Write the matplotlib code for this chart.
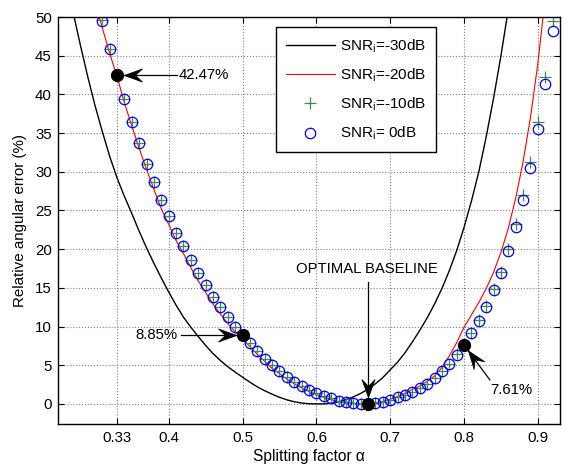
import matplotlib
matplotlib.use("Agg")
import matplotlib.pyplot as plt
from matplotlib.path import Path
from matplotlib.markers import MarkerStyle
from matplotlib.transforms import Affine2D
import numpy as np

plt.rcParams['font.family'] = ['Liberation Sans', 'DejaVu Sans']
plt.rcParams['mathtext.fontset'] = 'custom'
plt.rcParams['mathtext.rm'] = 'Liberation Sans'
plt.rcParams['mathtext.it'] = 'Liberation Sans'

# ---- data ----
x_m30 = [0.27, 0.28, 0.29, 0.30, 0.31, 0.32, 0.33, 0.34, 0.35, 0.36, 0.37, 0.38, 0.39, 0.40,
         0.41, 0.42, 0.43, 0.44, 0.45, 0.46, 0.47, 0.48, 0.49, 0.50, 0.51, 0.52, 0.53, 0.54,
         0.55, 0.56, 0.57, 0.58, 0.59, 0.60, 0.61, 0.62, 0.63, 0.64, 0.65, 0.66, 0.67, 0.68,
         0.69, 0.70, 0.71, 0.72, 0.73, 0.74, 0.75, 0.76, 0.77, 0.78, 0.79, 0.80, 0.81, 0.82,
         0.83, 0.84, 0.85, 0.86]
y_m30 = [50.8, 46.5, 42.4, 38.6, 35.2, 32.0, 29.2, 26.8, 24.6, 22.3, 20.15, 18.15, 16.25, 14.45,
         12.75, 11.2, 9.9, 8.7, 7.55, 6.5, 5.6, 4.8, 4.1, 3.45, 2.8, 2.2, 1.7, 1.25,
         0.85, 0.52, 0.28, 0.11, 0.02, 0.0, 0.0, 0.08, 0.25, 0.55, 0.9, 1.35, 1.9, 2.6,
         3.4, 4.4, 5.4, 6.6, 8.0, 9.5, 11.1, 12.9, 14.9, 17.2, 19.8, 22.8, 26.2, 30.0,
         34.5, 39.5, 45.0, 51.0]

x_m20 = [0.30, 0.31, 0.32, 0.33, 0.34, 0.35, 0.36, 0.37, 0.38, 0.39, 0.40, 0.41, 0.42, 0.43,
         0.44, 0.45, 0.46, 0.47, 0.48, 0.49, 0.50, 0.51, 0.52, 0.53, 0.54, 0.55, 0.56, 0.57,
         0.58, 0.59, 0.60, 0.61, 0.62, 0.63, 0.64, 0.65, 0.66, 0.67, 0.68, 0.69, 0.70, 0.71,
         0.72, 0.73, 0.74, 0.75, 0.76, 0.77, 0.78, 0.79, 0.80, 0.81, 0.82, 0.83, 0.84, 0.85,
         0.86, 0.87, 0.88, 0.89, 0.90, 0.91]
y_m20 = [52.0, 48.6, 45.3, 42.3, 38.9, 35.9, 33.0, 30.3, 27.7, 25.2, 23.2, 21.1, 19.4, 17.6,
         15.9, 14.4, 12.9, 11.6, 10.4, 9.3, 8.4, 7.4, 6.4, 5.5, 4.6, 3.9, 3.2, 2.6,
         2.05, 1.6, 1.2, 0.85, 0.55, 0.3, 0.12, 0.03, 0.0, 0.02, 0.12, 0.3, 0.6, 0.95,
         1.35, 1.85, 2.3, 2.9, 3.6, 4.7, 6.2, 7.9, 9.9, 11.5, 13.1, 14.9, 17.0, 19.6,
         22.7, 26.6, 31.3, 37.0, 44.0, 52.5]

x_pts = [0.31, 0.32, 0.33, 0.34, 0.35, 0.36, 0.37, 0.38, 0.39, 0.40, 0.41, 0.42, 0.43, 0.44,
         0.45, 0.46, 0.47, 0.48, 0.49, 0.50, 0.51, 0.52, 0.53, 0.54, 0.55, 0.56, 0.57, 0.58,
         0.59, 0.60, 0.61, 0.62, 0.63, 0.64, 0.65, 0.66, 0.67, 0.68, 0.69, 0.70, 0.71, 0.72,
         0.73, 0.74, 0.75, 0.76, 0.77, 0.78, 0.79, 0.80, 0.81, 0.82, 0.83, 0.84, 0.85, 0.86,
         0.87, 0.88, 0.89, 0.90, 0.91, 0.92]
y_m10 = [49.6, 45.9, 42.5, 39.4, 36.4, 33.7, 31.0, 28.7, 26.3, 24.3, 22.1, 20.4, 18.6, 16.9,
         15.3, 13.8, 12.5, 11.2, 10.0, 8.9, 7.86, 6.8, 5.8, 5.0, 4.2, 3.45, 2.85, 2.3,
         1.85, 1.45, 1.05, 0.7, 0.42, 0.2, 0.06, 0.0, 0.0, 0.08, 0.26, 0.52, 0.85, 1.15,
         1.5, 2.0, 2.6, 3.3, 4.2, 5.2, 6.4, 7.7, 9.2, 10.8, 12.6, 14.85, 17.1, 20.0,
         23.2, 27.0, 31.3, 36.4, 42.3, 49.5]
y_0 = [49.5, 45.85, 42.5, 39.4, 36.4, 33.7, 31.0, 28.7, 26.3, 24.3, 22.1, 20.4, 18.6, 16.9,
       15.3, 13.8, 12.5, 11.2, 10.0, 8.9, 7.86, 6.8, 5.8, 5.0, 4.2, 3.45, 2.85, 2.3,
       1.85, 1.45, 1.05, 0.7, 0.42, 0.2, 0.06, 0.0, 0.0, 0.08, 0.26, 0.52, 0.85, 1.15,
       1.5, 2.0, 2.6, 3.3, 4.2, 5.2, 6.35, 7.65, 9.1, 10.7, 12.5, 14.7, 16.9, 19.7,
       22.8, 26.4, 30.5, 35.5, 41.3, 48.2]

labels = [r'SNR$_{\rm i}$=-30dB', r'SNR$_{\rm i}$=-20dB', r'SNR$_{\rm i}$=-10dB', r'SNR$_{\rm i}$= 0dB']

# highlighted points and their annotations
ann_x = [0.33, 0.50, 0.67, 0.80]
ann_y = [42.47, 8.85, 0.0, 7.61]
ann_txt = ['42.47%', '8.85%', 'OPTIMAL BASELINE', '7.61%']
ann_tx = [0.414, 0.412, 0.668, 0.836]
ann_ty = [42.47, 8.85, 17.4, 1.8]
ann_ha = ['left', 'right', 'center', 'left']
arrow_sx = [0.411, 0.416, 0.670, 0.835]
arrow_sy = [42.47, 8.85, 15.7, 3.1]

xticks = [0.33, 0.4, 0.5, 0.6, 0.7, 0.8, 0.9]
xticklabels = ['0.33', '0.4', '0.5', '0.6', '0.7', '0.8', '0.9']
yticks = [0, 5, 10, 15, 20, 25, 30, 35, 40, 45, 50]

# ---- figure ----
fig = plt.figure(figsize=(5.68, 4.68), dpi=100)
ax = fig.add_axes([58/568, 44/468, 502/568, 407/468])
ax.set_xlim(0.25, 0.93)
ax.set_ylim(-2.6, 50)

ax.plot(x_m30, y_m30, color='black', lw=1.0, label=labels[0])
ax.plot(x_m20, y_m20, color='red', lw=0.8, label=labels[1])
ax.plot(x_pts, y_m10, ls='none', marker='+', ms=8, mew=0.9, color='#3c8c50', label=labels[2])
ax.plot(x_pts, y_0, ls='none', marker='o', ms=7.5, mfc='none', mec='blue', mew=0.9, label=labels[3])

ax.plot(ann_x, ann_y, ls='none', marker='o', ms=8.5, color='black', zorder=5)

# concave arrowhead marker: points toward +x, the dot sits at the origin
g = 0.37
head = Path([(-g, 0), (-g - 1, 0.36), (-g - 0.62, 0), (-g - 1, -0.36), (-g, 0)],
            [Path.MOVETO, Path.LINETO, Path.LINETO, Path.LINETO, Path.CLOSEPOLY])

fig.canvas.draw()
for i in range(len(ann_txt)):
    ax.text(ann_tx[i], ann_ty[i], ann_txt[i], ha=ann_ha[i], va='center', fontsize=10.7, zorder=6)
    ax.plot([arrow_sx[i], ann_x[i]], [arrow_sy[i], ann_y[i]], color='black', lw=0.9, zorder=6)
    p0 = ax.transData.transform((arrow_sx[i], arrow_sy[i]))
    p1 = ax.transData.transform((ann_x[i], ann_y[i]))
    ang = np.degrees(np.arctan2(p1[1] - p0[1], p1[0] - p0[0]))
    ms_ = MarkerStyle(head, transform=Affine2D().rotate_deg(ang))
    ax.plot([ann_x[i]], [ann_y[i]], ls='none', marker=ms_, ms=36, color='black',
            mew=0.5, zorder=7, clip_on=False)

ax.set_xticks(xticks)
ax.set_xticklabels(xticklabels)
ax.set_yticks(yticks)
ax.tick_params(direction='in', top=True, right=True, length=4, width=0.8, labelsize=10.8)
ax.tick_params(axis='y', pad=4.5)
ax.tick_params(axis='x', pad=5)
ax.grid(True, ls=':', color='#808080', lw=0.8)
for s in ax.spines.values():
    s.set_linewidth(1.0)

ax.set_xlabel('Splitting factor α', fontsize=11.2, labelpad=3)
ax.set_ylabel('Relative angular error (%)', fontsize=10.9, labelpad=6)

leg = ax.legend(loc='upper right', bbox_to_anchor=(0.753, 0.975), borderaxespad=0,
                fontsize=11, frameon=True, fancybox=False, framealpha=1, edgecolor='black',
                handlelength=3.2, handletextpad=0.35, labelspacing=0.78, borderpad=0.65)
leg.get_frame().set_linewidth(1.0)

fig.savefig('out.png', dpi=100)
